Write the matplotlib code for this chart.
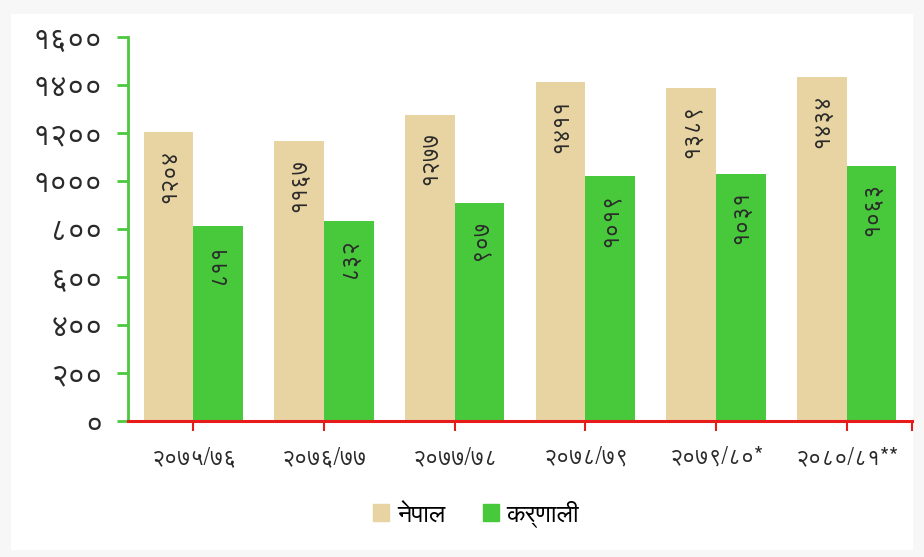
import matplotlib
matplotlib.use('Agg')
import matplotlib.pyplot as plt
from matplotlib.patches import Patch
import numpy as np

# ---- data ----
categories = ['२०७५/७६', '२०७६/७७', '२०७७/७८', '२०७८/७९', '२०७९/८०*', '२०८०/८१**']
nepal = [1204, 1167, 1277, 1411, 1389, 1434]
karnali = [811, 832, 907, 1019, 1031, 1063]
series_names = ['नेपाल', 'कर्णाली']
yticks = [0, 200, 400, 600, 800, 1000, 1200, 1400, 1600]

DEV = str.maketrans('0123456789', '०१२३४५६७८९')
def dev(n):
    return str(n).translate(DEV)

plt.rcParams['font.family'] = ['FreeSans', 'DejaVu Sans']

NEPAL_C = '#e8d4a2'
KARN_C = '#48c83b'
AXIS_G = '#4cc83e'
AXIS_R = '#e81b1b'
TXT = '#2a2a2a'

fig = plt.figure(figsize=(9.24, 5.57), dpi=100, facecolor='#f7f7f7')
bg = fig.add_axes([0.012, 0.012, 0.976, 0.962])
bg.set_facecolor('white')
bg.set_xticks([]); bg.set_yticks([])
for s in bg.spines.values():
    s.set_visible(False)

ax = fig.add_axes([128/924, 1-421/557, (912-128)/924, (421-37)/557])
ax.set_facecolor('none')
x = np.arange(len(categories))
w = 0.38
b1 = ax.bar(x - w/2, nepal, w, color=NEPAL_C, label=series_names[0], zorder=2)
b2 = ax.bar(x + w/2, karnali, w, color=KARN_C, label=series_names[1], zorder=2)

for bars, vals in ((b1, nepal), (b2, karnali)):
    for r, v in zip(bars, vals):
        ax.text(r.get_x() + r.get_width()/2, v - 68, dev(v), rotation=90,
                ha='center', va='top', fontsize=17, color=TXT, zorder=3)

ax.set_xlim(-0.5, len(categories) - 0.5)
ax.set_ylim(0, 1600)
ax.set_yticks(yticks)
ax.set_yticklabels([dev(t) for t in yticks], fontsize=22, color=TXT)
ax.set_xticks(list(x) + [len(categories) - 0.5])
ax.set_xticklabels(categories + [''], fontsize=16.5, color=TXT)

for s in ('top', 'right'):
    ax.spines[s].set_visible(False)
ax.spines['left'].set_color(AXIS_G)
ax.spines['left'].set_linewidth(2)
ax.spines['bottom'].set_color(AXIS_R)
ax.spines['bottom'].set_linewidth(2.2)
ax.tick_params(axis='y', colors=AXIS_G, labelcolor=TXT, length=8, width=2, pad=10)
ax.tick_params(axis='x', colors=AXIS_R, labelcolor=TXT, length=7, width=1.5, pad=11)

handles = [Patch(color=NEPAL_C), Patch(color=KARN_C)]
fig.legend(handles, series_names, loc='center', bbox_to_anchor=(476/924, 1-514/557),
           ncol=2, frameon=False, fontsize=18, handlelength=0.65, handleheight=0.65,
           columnspacing=1.5, handletextpad=0.3)

fig.savefig('out.png', dpi=100, facecolor=fig.get_facecolor())
